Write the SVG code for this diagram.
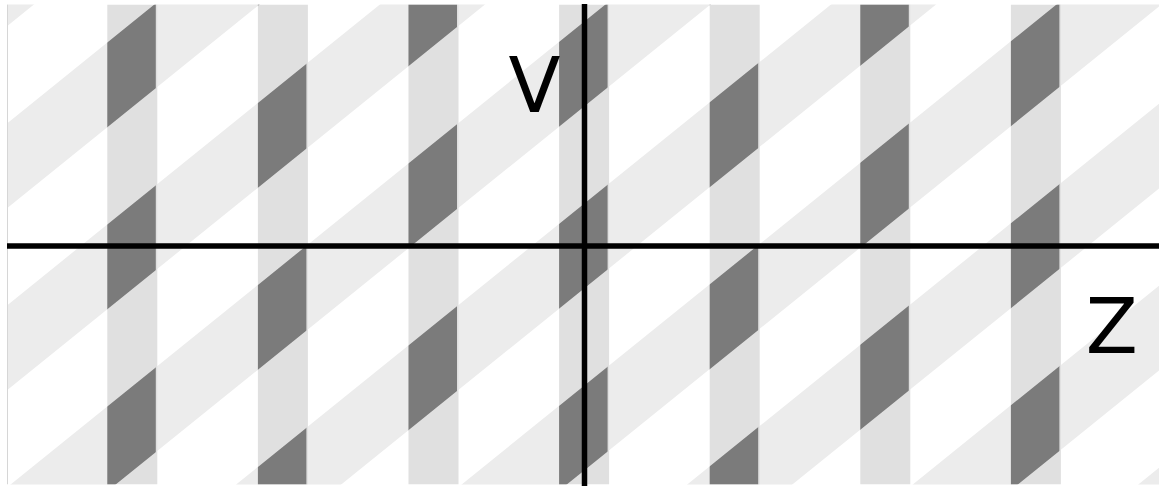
<svg xmlns="http://www.w3.org/2000/svg" width="1159" height="486" viewBox="0 0 1159 486">
  <defs>
    <style>
      .band { fill: #ececec; }
      .stripe { fill: #e0e0e0; }
      .dark { fill: #7b7b7b; }
      .axis { stroke: #000; stroke-width: 5.5; fill: none; }
      .label { font-family: "DejaVu Sans", "Liberation Sans", sans-serif; font-size: 76px; fill: #000; text-anchor: middle; }
    </style>
    <clipPath id="area">
      <rect x="7" y="4.5" width="1152" height="480"/>
    </clipPath>
    <clipPath id="stripesClip">
      <rect x="107.3" y="4.5" width="48.5" height="480"/>
      <rect x="257.9" y="4.5" width="48.5" height="480"/>
      <rect x="408.5" y="4.5" width="48.5" height="480"/>
      <rect x="559.1" y="4.5" width="48.5" height="480"/>
      <rect x="709.7" y="4.5" width="48.5" height="480"/>
      <rect x="860.3" y="4.5" width="48.5" height="480"/>
      <rect x="1010.9" y="4.5" width="48.5" height="480"/>
    </clipPath>
    <path id="bands" d="M7,-58.6 L1159,-988.2 L1159,-903.4 L7,26.2 Z
      M7,123.4 L1159,-806.2 L1159,-721.4 L7,208.2 Z
      M7,305.4 L1159,-624.2 L1159,-539.4 L7,390.2 Z
      M7,487.4 L1159,-442.2 L1159,-357.4 L7,572.2 Z
      M7,669.4 L1159,-260.2 L1159,-175.4 L7,754.2 Z
      M7,851.4 L1159,-78.2 L1159,6.6 L7,936.2 Z
      M7,1033.4 L1159,103.8 L1159,188.6 L7,1118.2 Z
      M7,1215.4 L1159,285.8 L1159,370.6 L7,1300.2 Z
      M7,1397.4 L1159,467.8 L1159,552.6 L7,1482.2 Z"/>
  </defs>

  <rect x="0" y="0" width="1159" height="486" fill="#ffffff"/>

  <g id="pattern" clip-path="url(#area)">
    <g id="diagonal-bands">
      <use href="#bands" class="band"/>
    </g>
    <g id="vertical-stripes">
      <rect class="stripe" x="107.3" y="4.5" width="50" height="480"/>
      <rect class="stripe" x="257.9" y="4.5" width="50" height="480"/>
      <rect class="stripe" x="408.5" y="4.5" width="50" height="480"/>
      <rect class="stripe" x="559.1" y="4.5" width="50" height="480"/>
      <rect class="stripe" x="709.7" y="4.5" width="50" height="480"/>
      <rect class="stripe" x="860.3" y="4.5" width="50" height="480"/>
      <rect class="stripe" x="1010.9" y="4.5" width="50" height="480"/>
    </g>
    <g id="intersections" clip-path="url(#stripesClip)">
      <use href="#bands" class="dark"/>
    </g>
    <line x1="7.5" y1="4.5" x2="7.5" y2="484.5" stroke="#d6d6d6" stroke-width="1"/>
  </g>

  <g id="connectors">
    <line id="axis-Z" class="axis" x1="7" y1="246" x2="1159" y2="246"/>
    <line id="axis-V" class="axis" x1="584.5" y1="4" x2="584.5" y2="486"/>
  </g>

  <g id="label-V">
    <text class="label" x="534.5" y="111.7">V</text>
  </g>
  <g id="label-Z">
    <text class="label" x="1111.7" y="353.3">Z</text>
  </g>
</svg>
